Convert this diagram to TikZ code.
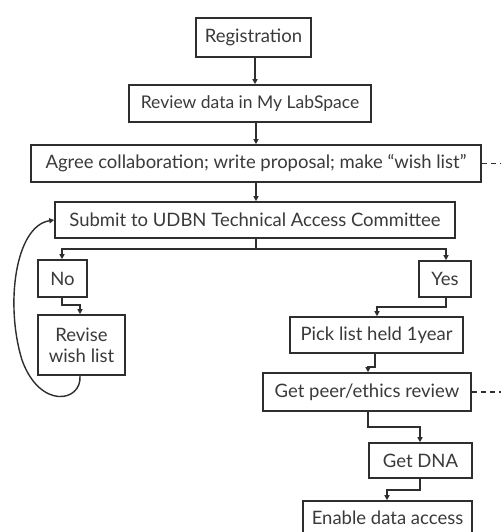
\documentclass[tikz,border=0pt]{standalone}
\usepackage{fontspec}
\setmainfont{Lato}
\usetikzlibrary{arrows.meta}
\definecolor{ink}{HTML}{2E2E2E}
\definecolor{txt}{HTML}{3A3A3A}
\begin{document}
\begin{tikzpicture}[x=1pt,y=-1pt,
  box/.style={draw=ink, line width=1.6pt, inner sep=0pt, align=center, text=txt,
    font=\fontsize{18.5}{21}\selectfont},
  conn/.style={draw=ink, line width=1.4pt, -{Triangle[length=5pt,width=5pt]}},
  dashline/.style={draw=ink, line width=1.4pt, dash pattern=on 5pt off 4pt}]
\useasboundingbox[fill=white] (0,0) rectangle (501,532);
\node[box, minimum width=115pt, minimum height=39pt] (reg) at (253.5,37.5) {Registration};
\node[box, minimum width=242pt, minimum height=37pt, font=\fontsize{17.5}{21}\selectfont] (rev) at (250,103.5) {Review data in My LabSpace};
\node[box, minimum width=450pt, minimum height=37pt] (agree) at (256,163.5) {Agree collaboration; write proposal; make ``wish list''};
\node[box, minimum width=400pt, minimum height=36pt] (sub) at (255,220) {Submit to UDBN Technical Access Committee};
\node[box, minimum width=49pt, minimum height=37pt] (no) at (62.5,278.5) {No};
\node[box, minimum width=52pt, minimum height=36pt] (yes) at (445,279) {Yes};
\node[box, minimum width=87pt, minimum height=60pt] (revise) at (81.5,345) {Revise\\wish list};
\node[box, minimum width=173pt, minimum height=36pt] (pick) at (376.5,335) {Pick list held 1year};
\node[box, minimum width=208pt, minimum height=38pt] (peer) at (367,392) {Get peer/ethics review};
\node[box, minimum width=103pt, minimum height=35pt] (dna) at (420.5,460.5) {Get DNA};
\node[box, minimum width=169pt, minimum height=34pt] (enable) at (387.5,518) {Enable data access};
\coordinate (br) at (256,249);
\coordinate (agreeend) at (501,163.5);
\coordinate (peerend) at (501,392);
% connectors
\draw[conn] (reg.south -| 255,0) -- (rev.north -| 255,0);
\draw[conn] (rev.south -| 256,0) -- (agree.north -| 256,0);
\draw[conn] (agree.south -| 256,0) -- (sub.north -| 256,0);
\draw[ink, line width=1.4pt] (sub.south -| br) -- (br);
\draw[conn] (br) -| (no.north -| 62,0);
\draw[conn] (br) -| (yes.north -| 446,0);
\draw[conn] (no.south -| 62,0) |- (80,305) -- (revise.north -| 80,0);
\draw[conn] (yes.south -| 446,0) |- (377,307) -- (pick.north -| 377,0);
\draw[conn] (pick.south -| 375,0) |- (368,367) -- (peer.north -| 368,0);
\draw[conn] (peer.south -| 368,0) |- (420,427) -- (dna.north -| 420,0);
\draw[conn] (dna.south -| 420,0) |- (387,490) -- (enable.north -| 387,0);
\draw[conn] (revise.south -| 80,0) .. controls (82,402) and (40,410) .. (22,360)
  .. controls (5,305) and (15,226) .. (sub.west);
\draw[dashline] (agree.east) -- (agreeend);
\draw[dashline] (peer.east) -- (peerend);
\end{tikzpicture}
\end{document}
